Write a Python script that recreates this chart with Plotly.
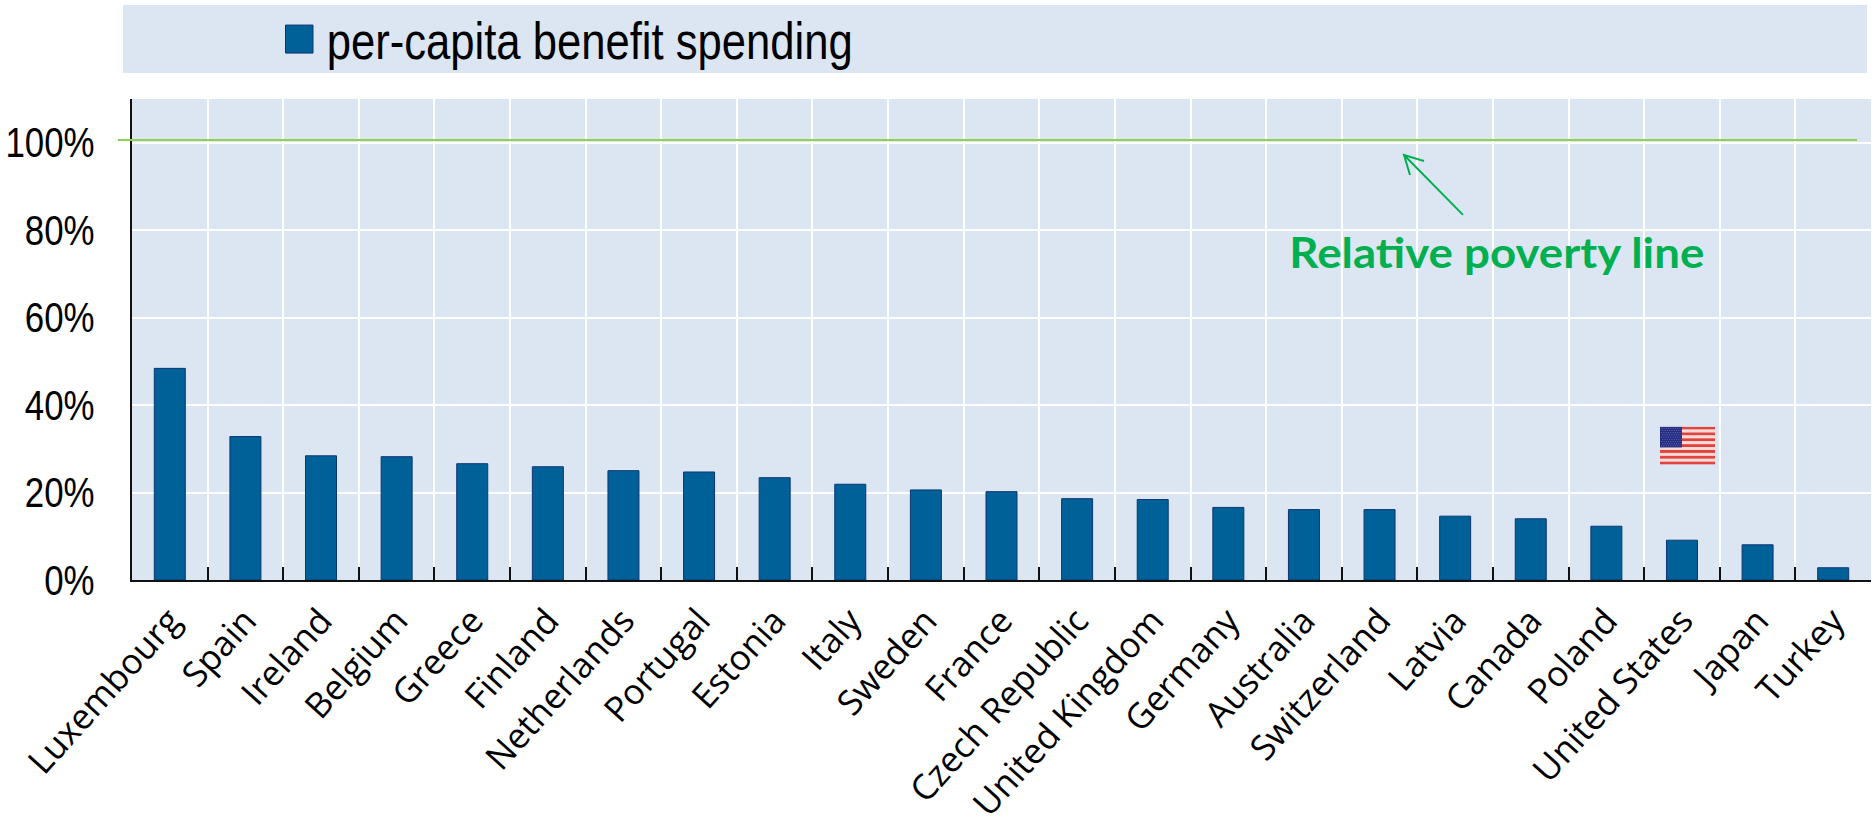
import base64
import plotly.graph_objects as go

countries = ["Luxembourg", "Spain", "Ireland", "Belgium", "Greece", "Finland", "Netherlands", "Portugal",
             "Estonia", "Italy", "Sweden", "France", "Czech Republic", "United Kingdom", "Germany", "Australia",
             "Switzerland", "Latvia", "Canada", "Poland", "United States", "Japan", "Turkey"]
benefit_spending = [48.4, 32.8, 28.4, 28.2, 26.6, 25.9, 25.0, 24.7, 23.4, 21.9, 20.6, 20.2,
                    18.6, 18.4, 16.6, 16.1, 16.1, 14.6, 14.0, 12.3, 9.1, 8.05, 2.8]
y_ticks = [0, 20, 40, 60, 80, 100]
y_tick_labels = ["0%", "20%", "40%", "60%", "80%", "100%"]
poverty_line = 100.6
series_name = "per-capita benefit spending"
annotation_text = "Relative poverty line"

W, H = 1876, 833
L, R, T, B = 132, 1871, 99, 580.5

def px(x):
    return (x - L) / (R - L)

def py(y):
    return (B - y) / (B - T)

BAND = "#DCE6F2"
SANS = "Liberation Sans, Arial, sans-serif"

# Small flag picture
stripes = "".join(
    f'<rect x="0" y="{i*38/13:.3f}" width="55" height="{38/13:.3f}" fill="{"#E4423F" if i % 2 == 0 else "#FADAD2"}"/>'
    for i in range(13))
stars = "".join(
    f'<circle cx="{1.6+c*2.3+(r%2)*1.1:.2f}" cy="{1.6+r*2.2:.2f}" r="0.55" fill="#6A72B8"/>'
    for r in range(9) for c in range(9))
svg = (f'<svg xmlns="http://www.w3.org/2000/svg" width="55" height="38" viewBox="0 0 55 38">{stripes}'
       f'<rect x="0" y="0" width="22" height="20.8" fill="#252D82"/>{stars}</svg>')
flag_uri = "data:image/svg+xml;base64," + base64.b64encode(svg.encode()).decode()

fig = go.Figure(go.Bar(
    x=countries, y=benefit_spending, name=series_name,
    marker=dict(color="#006199", line=dict(color="#0B3673", width=1)),
    width=0.41, showlegend=False,
))

a = f"M {px(1463)} {py(215)} L {px(1404)} {py(155)} M {px(1424)} {py(161)} L {px(1404)} {py(155)} L {px(1410)} {py(175)}"

fig.update_layout(
    width=W, height=H, autosize=False,
    margin=dict(l=L, r=W - R, t=T, b=H - B, pad=0),
    paper_bgcolor="white", plot_bgcolor=BAND,
    font=dict(family=SANS, color="black"),
    xaxis=dict(
        type="category", tickson="boundaries", ticks="inside", ticklen=13, tickwidth=1.5, tickcolor="#111111",
        showgrid=True, gridcolor="white", gridwidth=2, showline=True, linecolor="#111111", linewidth=2,
        tickangle=-48, tickfont=dict(family="Open Sans, sans-serif", size=35, color="black"),
        ticklabelstandoff=4, automargin=False,
    ),
    yaxis=dict(
        range=[0, 110], tickvals=y_ticks, ticktext=y_tick_labels, showgrid=True, gridcolor="white", gridwidth=2,
        zeroline=False, showline=True, linecolor="#111111", linewidth=2, ticks="",
        tickfont=dict(family=SANS, size=42, color="black"), ticklabelstandoff=27, automargin=False,
    ),
    shapes=[
        dict(type="rect", xref="paper", yref="paper", x0=px(123), x1=px(1867), y0=py(73), y1=py(5),
             fillcolor=BAND, line=dict(width=0), layer="below"),
        dict(type="rect", xref="paper", yref="paper", x0=px(285.5), x1=px(313), y0=py(53), y1=py(25),
             fillcolor="#006199", line=dict(color="#0B3673", width=1)),
        dict(type="line", xref="paper", yref="y", x0=px(118), x1=px(1857), y0=poverty_line, y1=poverty_line,
             line=dict(color="#92D050", width=2)),
        dict(type="path", xref="paper", yref="paper", path=a, line=dict(color="#00B050", width=2)),
    ],
    annotations=[
        dict(text=series_name, xref="paper", yref="paper", x=px(589), y=py(41), xanchor="center", yanchor="middle",
             showarrow=False, font=dict(family=SANS, size=52, color="black")),
        dict(text=f"<b>{annotation_text}</b>", xref="paper", yref="paper", x=px(1497), y=py(252),
             xanchor="center", yanchor="middle", showarrow=False,
             font=dict(family="Lato, sans-serif", size=42, color="#00B050")),
    ],
    images=[dict(source=flag_uri, xref="paper", yref="paper", x=px(1660), y=py(427), sizex=px(1715) - px(1660),
                 sizey=py(427) - py(465), xanchor="left", yanchor="top", sizing="stretch", layer="above")],
)

# No narrow font is installed: condense the real text with SVG textLength.
post = """
document.body.style.margin='0';
function fitText(){
  var gd=document.getElementById('{plot_id}');
  gd.querySelectorAll('.ytick text').forEach(function(t){
    if(t.dataset.fit)return; t.dataset.fit='1';
    t.setAttribute('textLength',t.getComputedTextLength()*0.83);
    t.setAttribute('lengthAdjust','spacingAndGlyphs');
  });
  gd.querySelectorAll('.annotation-text').forEach(function(t){
    if(t.dataset.fit)return; t.dataset.fit='1';
    var w=t.textContent.indexOf('Relative')===0?415:526;
    t.setAttribute('textLength',w);
    t.setAttribute('lengthAdjust','spacingAndGlyphs');
  });
}
fitText(); setTimeout(fitText,100);
"""
fig.write_html("out.html", post_script=post, config={"displayModeBar": False})
